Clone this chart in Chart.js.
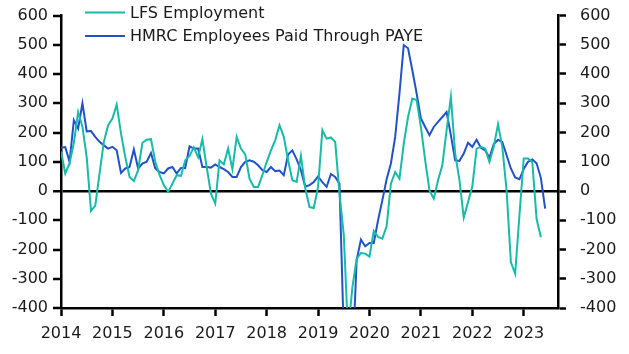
<!DOCTYPE html>
<html>
<head>
<meta charset="utf-8">
<script src="https://cdn.jsdelivr.net/npm/chart.js@4/dist/chart.umd.min.js"></script>
<style>
html,body{margin:0;padding:0;background:#fff;}
#wrap{width:629px;height:354px;}
</style>
</head>
<body>
<div id="wrap"><canvas id="c" width="629" height="354"></canvas></div>
<script>
// Monthly categories Jan 2014 .. Sep 2023
const startYear = 2014;
const monthCount = 117;
const categories = [];
for (let i = 0; i < monthCount; i++) {
  categories.push(String(startYear + Math.floor(i / 12)) + '-' + String(i % 12 + 1).padStart(2, '0'));
}

const lfsLabel = 'LFS Employment';
const hmrcLabel = 'HMRC Employees Paid Through PAYE';

// LFS employment (000s), monthly from Jan 2014
const lfsValues = [
  135, 60, 95, 165, 270, 220, 115, -68, -50, 60, 168, 225,
  248, 296, 197, 116, 48, 34, 71, 165, 175, 177, 100, 55,
  20, -3, 25, 54, 52, 105, 120, 149, 116, 177, 82, -9,
  -43, 105, 91, 145, 75, 185, 145, 125, 42, 14, 14, 54,
  99, 139, 174, 225, 185, 105, 37, 31, 120, 10, -55, -58,
  14, 208, 179, 183, 168, -9, -150, -485, -330, -232, -212, -214,
  -224, -137, -157, -163, -121, 25, 65, 42, 162, 253, 316, 311,
  219, 105, 2, -26, 37, 88, 208, 322, 128, 37, -91, -38,
  15, 145, 151, 145, 99, 151, 228, 151, 2, -243, -283, -83,
  111, 111, 99, -95, -158
];

// HMRC employees paid through PAYE (000s), monthly from Jan 2014
const hmrcValues = [
  148, 150, 100, 242, 214, 300, 204, 205, 185, 168, 156, 145,
  151, 139, 62, 77, 82, 142, 77, 94, 100, 130, 77, 65,
  60, 77, 82, 60, 79, 79, 153, 145, 145, 82, 82, 80,
  91, 82, 75, 65, 48, 48, 82, 100, 105, 100, 88, 71,
  65, 82, 68, 70, 54, 125, 139, 108, 71, 15, 20, 31,
  50, 30, 14, 58, 48, 25, -490, -650, -600, -237, -166, -189,
  -178, -178, -100, -32, 40, 94, 185, 334, 499, 488, 413, 334,
  248, 219, 191, 219, 236, 253, 270, 190, 105, 103, 128, 165,
  151, 175, 148, 139, 114, 160, 175, 168, 122, 77, 46, 40,
  75, 100, 108, 95, 45, -60
];

const yMin = -400, yMax = 600, yStep = 100;
const lfsColor = '#17bba8';
const hmrcColor = '#2152c8';
const textColor = '#1a1a1a';
const FONT = 'DejaVu Sans';

const legendPlugin = {
  id: 'insideLegend',
  afterDraw(chart) {
    const ctx = chart.ctx;
    const items = chart.data.datasets;
    ctx.save();
    ctx.font = '16px "' + FONT + '"';
    ctx.textBaseline = 'middle';
    ctx.textAlign = 'left';
    items.forEach((ds, k) => {
      const y = 12.5 + k * 23.5;
      ctx.strokeStyle = ds.borderColor;
      ctx.lineWidth = 2;
      ctx.beginPath();
      ctx.moveTo(85, y);
      ctx.lineTo(125, y);
      ctx.stroke();
      ctx.fillStyle = textColor;
      ctx.fillText(ds.label, 130, y + 1);
    });
    ctx.restore();
  }
};

function noPad(s) { s.paddingTop = 0; s.paddingBottom = 0; s.paddingLeft = 0; s.paddingRight = 0; }

new Chart(document.getElementById('c'), {
  type: 'line',
  data: {
    labels: categories,
    datasets: [
      { label: lfsLabel, data: lfsValues, borderColor: lfsColor, backgroundColor: lfsColor,
        borderWidth: 2, pointRadius: 0, tension: 0, yAxisID: 'y', clip: 0 },
      { label: hmrcLabel, data: hmrcValues, borderColor: hmrcColor, backgroundColor: hmrcColor,
        borderWidth: 2, pointRadius: 0, tension: 0, yAxisID: 'y', clip: 0 }
    ]
  },
  options: {
    responsive: false,
    animation: false,
    devicePixelRatio: 1,
    layout: { padding: { top: 15.5, left: 0, right: 0, bottom: 0 } },
    plugins: { legend: { display: false }, tooltip: { enabled: false } },
    scales: {
      x: {
        type: 'category',
        offset: false,
        grid: { drawOnChartArea: false, drawTicks: true, tickLength: 8, tickColor: '#000', tickWidth: 2.5 },
        border: { display: true, color: '#000', width: 2.5 },
        ticks: {
          autoSkip: false, maxRotation: 0, minRotation: 0, padding: 8,
          color: textColor, font: { family: FONT, size: 16 },
          callback: function(v, i) { return (i % 12 === 0) ? String(startYear + i / 12) : null; }
        },
        afterFit: function(s) { s.height = 46; noPad(s); }
      },
      y: {
        position: 'left', min: yMin, max: yMax,
        grid: {
          drawOnChartArea: true, drawTicks: true, tickLength: 8, tickColor: '#000', tickWidth: 2.5,
          color: (c) => (c.tick && c.tick.value === 0) ? '#000' : 'rgba(0,0,0,0)',
          lineWidth: (c) => (c.tick && c.tick.value === 0) ? 2.5 : 0
        },
        border: { display: true, color: '#000', width: 2.5 },
        ticks: { stepSize: yStep, padding: 5, color: textColor, font: { family: FONT, size: 16 } },
        afterFit: function(s) { s.width = 61; noPad(s); }
      },
      y2: {
        position: 'right', min: yMin, max: yMax,
        grid: { drawOnChartArea: false, drawTicks: true, tickLength: 8, tickColor: '#000', tickWidth: 2.5 },
        border: { display: true, color: '#000', width: 2.5 },
        ticks: { stepSize: yStep, padding: 14, color: textColor, font: { family: FONT, size: 16 } },
        afterFit: function(s) { s.width = 71; noPad(s); }
      }
    }
  },
  plugins: [legendPlugin]
});
</script>
</body>
</html>
